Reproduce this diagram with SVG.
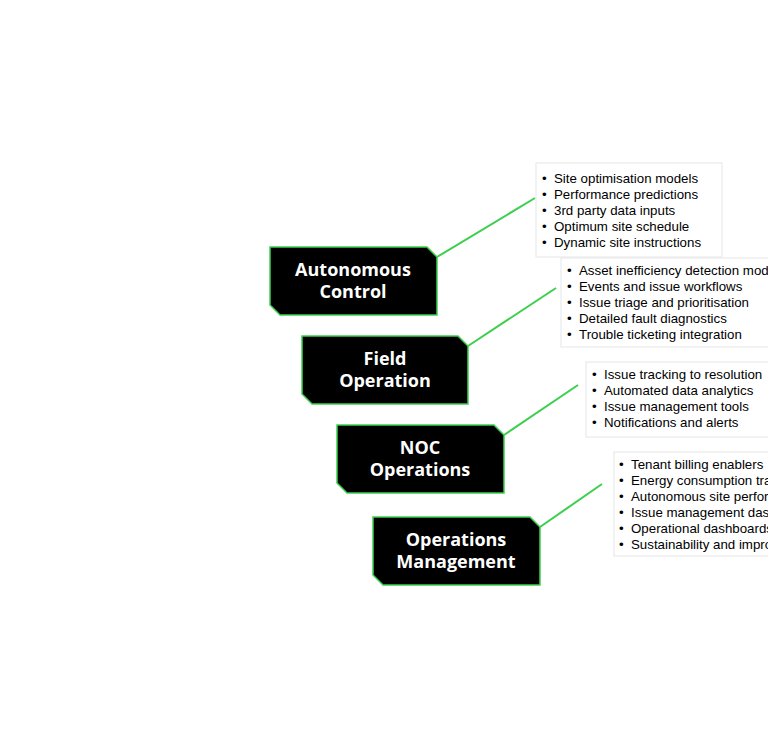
<svg xmlns="http://www.w3.org/2000/svg" width="768" height="750" viewBox="0 0 768 750">
<style>
.node{fill:#000;stroke:#3ccf4e;stroke-width:1.5}
.lbl{font-family:"Open Sans","Noto Sans",sans-serif;font-weight:700;font-size:18px;fill:#fff;text-anchor:middle}
.conn{stroke:#3ccf4e;stroke-width:2;fill:none}
.list{fill:#fff;stroke:#e6e6e6;stroke-width:1}
.item{font-family:"Liberation Sans","Arial",sans-serif;font-size:13.3px;fill:#000}
</style>
<rect width="768" height="750" fill="#fff"/>
<g id="connectors">
<line class="conn" x1="437" y1="257" x2="535" y2="198"/>
<line class="conn" x1="468" y1="346" x2="556" y2="288"/>
<line class="conn" x1="504" y1="435" x2="578" y2="385"/>
<line class="conn" x1="540" y1="527" x2="602" y2="484"/>
</g>
<g id="list1">
<rect class="list" x="536" y="163" width="186" height="94"/>
<text class="item" x="542" y="183">• <tspan x="554">Site optimisation models</tspan></text>
<text class="item" x="542" y="199">• <tspan x="554">Performance predictions</tspan></text>
<text class="item" x="542" y="215">• <tspan x="554">3rd party data inputs</tspan></text>
<text class="item" x="542" y="231">• <tspan x="554">Optimum site schedule</tspan></text>
<text class="item" x="542" y="247">• <tspan x="554">Dynamic site instructions</tspan></text>
</g>
<g id="list2">
<rect class="list" x="561" y="258" width="220" height="89"/>
<text class="item" x="567" y="275">• <tspan x="579">Asset inefficiency detection models</tspan></text>
<text class="item" x="567" y="291">• <tspan x="579">Events and issue workflows</tspan></text>
<text class="item" x="567" y="307">• <tspan x="579">Issue triage and prioritisation</tspan></text>
<text class="item" x="567" y="323">• <tspan x="579">Detailed fault diagnostics</tspan></text>
<text class="item" x="567" y="339">• <tspan x="579">Trouble ticketing integration</tspan></text>
</g>
<g id="list3">
<rect class="list" x="586" y="362" width="200" height="75"/>
<text class="item" x="592" y="379">• <tspan x="604">Issue tracking to resolution</tspan></text>
<text class="item" x="592" y="395">• <tspan x="604">Automated data analytics</tspan></text>
<text class="item" x="592" y="411">• <tspan x="604">Issue management tools</tspan></text>
<text class="item" x="592" y="427">• <tspan x="604">Notifications and alerts</tspan></text>
</g>
<g id="list4">
<rect class="list" x="614" y="452" width="180" height="104"/>
<text class="item" x="619" y="469">• <tspan x="631">Tenant billing enablers</tspan></text>
<text class="item" x="619" y="485">• <tspan x="631">Energy consumption tracking</tspan></text>
<text class="item" x="619" y="501">• <tspan x="631">Autonomous site performance</tspan></text>
<text class="item" x="619" y="517">• <tspan x="631">Issue management dashboards</tspan></text>
<text class="item" x="619" y="533">• <tspan x="631">Operational dashboards</tspan></text>
<text class="item" x="619" y="549">• <tspan x="631">Sustainability and improvement</tspan></text>
</g>
<g id="node-autonomous">
<polygon class="node" points="270,247 427,247 437,257 437,315 280,315 270,305"/>
<text class="lbl" x="353" y="276">Autonomous</text>
<text class="lbl" x="353" y="298">Control</text>
</g>
<g id="node-field">
<polygon class="node" points="302,336 458,336 468,346 468,404 312,404 302,394"/>
<text class="lbl" x="385" y="365">Field</text>
<text class="lbl" x="385" y="387">Operation</text>
</g>
<g id="node-noc">
<polygon class="node" points="337,425 494,425 504,435 504,493 347,493 337,483"/>
<text class="lbl" x="420" y="454">NOC</text>
<text class="lbl" x="420" y="476">Operations</text>
</g>
<g id="node-opsmgmt">
<polygon class="node" points="373,517 530,517 540,527 540,585 383,585 373,575"/>
<text class="lbl" x="456" y="546">Operations</text>
<text class="lbl" x="456" y="568">Management</text>
</g>
</svg>
